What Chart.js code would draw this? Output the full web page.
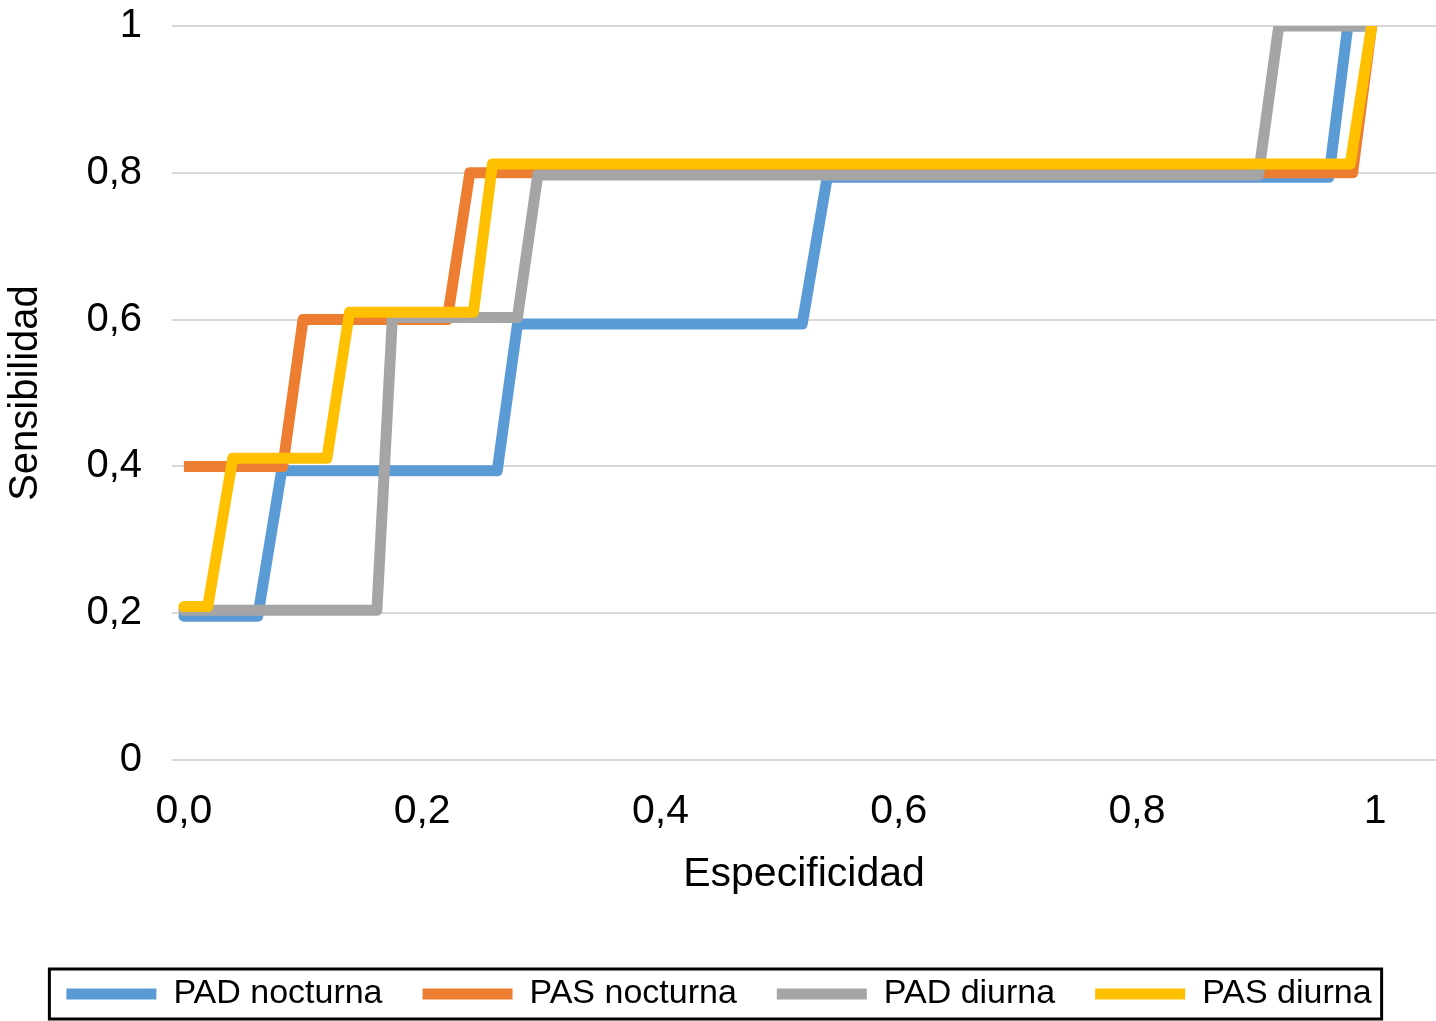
<!DOCTYPE html>
<html>
<head>
<meta charset="utf-8">
<title>Curvas ROC</title>
<script src="https://cdn.jsdelivr.net/npm/chart.js@4.4.1/dist/chart.umd.min.js"></script>
<style>
  html, body { margin: 0; padding: 0; background: #fff; }
  #wrap { width: 1436px; height: 1021px; position: relative; }
</style>
</head>
<body>
<div id="wrap"><canvas id="roc"></canvas></div>
<script>
// series names
const seriesNames = ["PAD nocturna", "PAS nocturna", "PAD diurna", "PAS diurna"];

// especificidad (x) / sensibilidad (y)
const padNocX = [0, 0.062, 0.082, 0.263, 0.280, 0.519, 0.540, 0.961, 0.977, 0.997];
const padNocY = [0.196, 0.196, 0.394, 0.394, 0.594, 0.594, 0.794, 0.794, 1.0, 1.0];

const pasNocX = [0, 0.083, 0.100, 0.221, 0.240, 0.981, 0.997];
const pasNocY = [0.4, 0.4, 0.6, 0.6, 0.8, 0.8, 1.0];

const padDiuX = [0, 0.162, 0.175, 0.280, 0.297, 0.902, 0.919, 0.996];
const padDiuY = [0.204, 0.204, 0.603, 0.603, 0.797, 0.797, 1.0, 1.0];

const pasDiuX = [0, 0.020, 0.041, 0.120, 0.139, 0.243, 0.259, 0.979, 0.997];
const pasDiuY = [0.209, 0.209, 0.411, 0.411, 0.61, 0.61, 0.812, 0.812, 1.0];

// tick values and labels
const xTickValues = [0, 0.2, 0.4, 0.6, 0.8, 1];
const xTickLabels = ["0,0", "0,2", "0,4", "0,6", "0,8", "1"];
const yTickLabels = ["0", "0,2", "0,4", "0,6", "0,8", "1"];

const colors = ["#5B9BD5", "#ED7D31", "#A5A5A5", "#FFC000"];
const caps = ["round", "butt", "round", "round"];

const font = "'Liberation Sans', Arial, sans-serif";

function toPoints(xs, ys) {
  return xs.map((x, i) => ({ x: x, y: ys[i] }));
}

const allX = [padNocX, pasNocX, padDiuX, pasDiuX];
const allY = [padNocY, pasNocY, padDiuY, pasDiuY];

const datasets = seriesNames.map((name, i) => ({
  label: name,
  data: toPoints(allX[i], allY[i]),
  borderColor: colors[i],
  backgroundColor: colors[i],
  borderWidth: 11,
  borderJoinStyle: "round",
  borderCapStyle: caps[i],
  showLine: true,
  pointRadius: 0,
  pointHoverRadius: 0,
  order: seriesNames.length - i, // excel draws later series on top
}));

// box around the legend, like the excel one
const legendFrame = {
  id: "legendFrame",
  afterDraw(chart) {
    const hb = chart.legend.legendHitBoxes;
    if (!hb || !hb.length) return;
    const first = hb[0];
    const last = hb[hb.length - 1];
    const cy = first.top + first.height / 2;
    const left = first.left - 17;
    const right = last.left + last.width + 10;
    const ctx = chart.ctx;
    ctx.save();
    ctx.strokeStyle = "#000";
    ctx.lineWidth = 3;
    ctx.strokeRect(left, cy - 25, right - left, 50);
    ctx.restore();
  },
};

const ctx = document.getElementById("roc").getContext("2d");
new Chart(ctx, {
  type: "scatter",
  data: { datasets: datasets },
  plugins: [legendFrame],
  options: {
    responsive: true,
    maintainAspectRatio: false,
    animation: false,
    layout: { padding: { top: 26, right: 0, bottom: 0, left: 2 } },
    plugins: {
      tooltip: { enabled: false },
      legend: {
        position: "bottom",
        labels: {
          sort: (a, b) => a.datasetIndex - b.datasetIndex,
          usePointStyle: true,
          pointStyle: "line",
          pointStyleWidth: 90,
          boxHeight: 10,
          padding: 40,
          color: "#000",
          font: { family: font, size: 34 },
        },
      },
    },
    scales: {
      x: {
        type: "linear",
        min: -0.01,
        max: 1.051,
        afterBuildTicks: (scale) => {
          scale.ticks = xTickValues.map((v) => ({ value: v }));
        },
        afterFit: (scale) => { scale.height = 177; },
        grid: { display: false },
        border: { display: false },
        ticks: {
          autoSkip: false,
          maxRotation: 0,
          padding: 19,
          color: "#000",
          font: { family: font, size: 41 },
          callback: (v) => {
            const i = xTickValues.findIndex((t) => Math.abs(t - v) < 1e-9);
            return i >= 0 ? xTickLabels[i] : "";
          },
        },
        title: {
          display: true,
          text: "Especificidad",
          color: "#000",
          font: { family: font, size: 41 },
          padding: { top: 4, bottom: 38 },
        },
      },
      y: {
        min: 0,
        max: 1,
        afterFit: (scale) => {
          scale.width = 170;
          // tick padding would otherwise push the plot top down
          scale.paddingTop = 0;
          scale.paddingBottom = 0;
        },
        grid: { color: "#d9d9d9", lineWidth: 2, drawTicks: false },
        border: { display: false },
        ticks: {
          stepSize: 0.2,
          padding: 30,
          color: "#000",
          font: { family: font, size: 40 },
          callback: (v) => yTickLabels[Math.round(v / 0.2)],
        },
        title: {
          display: true,
          text: "Sensibilidad",
          color: "#000",
          font: { family: font, size: 40 },
          padding: { top: 0, bottom: 0 },
        },
      },
    },
  },
});
</script>
</body>
</html>
